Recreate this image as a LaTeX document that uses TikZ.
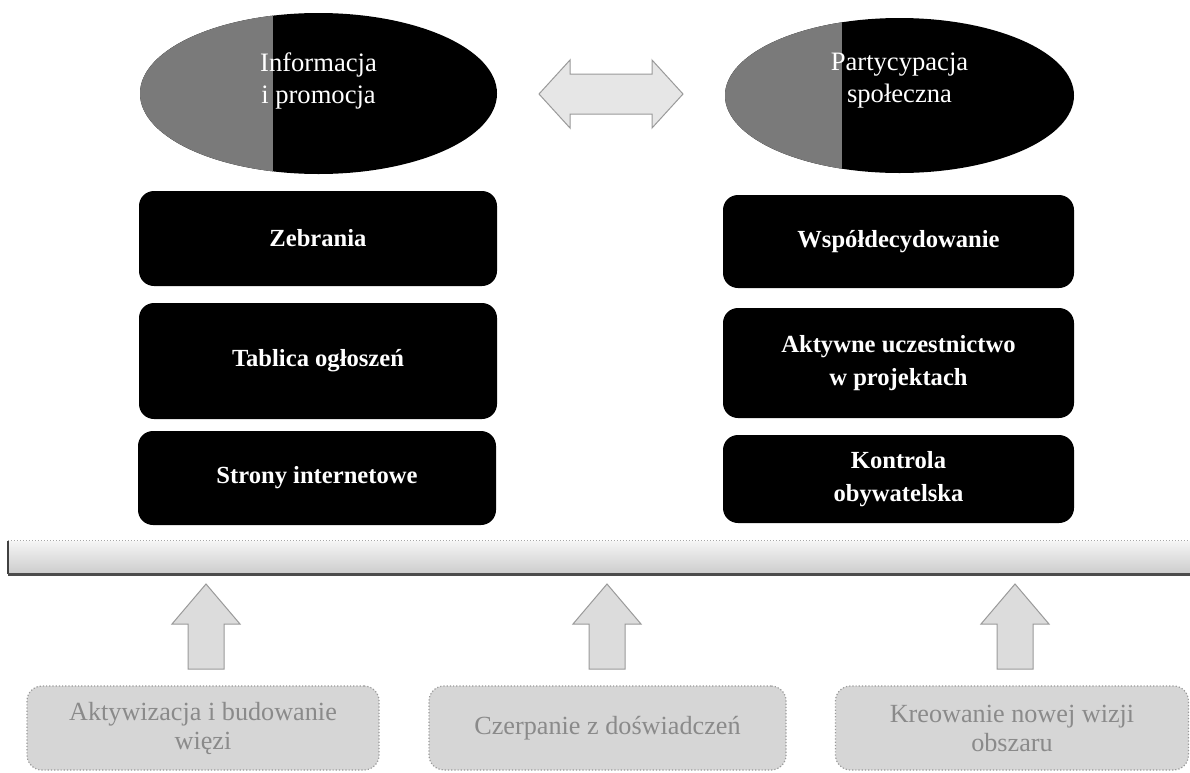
\documentclass[tikz,border=0pt]{standalone}
\usepackage{fontspec}
\setmainfont{Liberation Serif}
\usetikzlibrary{shapes.geometric}
\definecolor{ellgray}{HTML}{7A7A7A}
\definecolor{boxgray}{HTML}{D6D6D6}
\definecolor{edgegray}{HTML}{9A9A9A}
\definecolor{txtgray}{HTML}{8A8A8A}
\definecolor{arrowgray}{HTML}{DCDCDC}
\begin{document}
\begin{tikzpicture}[x=0.5pt,y=-0.5pt,
  ell/.style={ellipse, fill=black, inner sep=0pt},
  elltext/.style={text=white, align=center, inner sep=0pt, font=\fontsize{13.3}{16}\selectfont},
  darkbox/.style={rectangle, rounded corners=7.5pt, fill=black, text=white, align=center, inner sep=0pt, font=\bfseries\fontsize{12.3}{16.5}\selectfont},
  lightbox/.style={rectangle, rounded corners=7.5pt, fill=boxgray, draw=edgegray, densely dotted, line width=0.6pt, text=txtgray, align=center, inner sep=0pt, minimum height=42pt, font=\fontsize{13.1}{14.5}\selectfont},
  blockarrow/.style={fill=arrowgray, draw=edgegray, line width=0.5pt}]
\useasboundingbox (0,0) rectangle (1190,772);
\fill[white] (0,0) rectangle (1190,772);

% ellipses
\node[ell, minimum width=178.5pt, minimum height=80.5pt,
  path picture={\fill[ellgray] (path picture bounding box.south west) rectangle ([xshift=66.5pt]path picture bounding box.north west);}]
  (info) at (318.5,93.5) {};
\node[elltext] (infotext) at (318.5,81) {Informacja\\i promocja};

\node[ell, minimum width=174.5pt, minimum height=77.5pt,
  path picture={\fill[ellgray] (path picture bounding box.south west) rectangle ([xshift=58.5pt]path picture bounding box.north west);}]
  (part) at (899.5,95.5) {};
\node[elltext] (parttext) at (899.5,81) {Partycypacja\\społeczna};

% double arrow
\draw[blockarrow, fill=arrowgray!70!white] (539,94) -- (570,60) -- (570,74) -- (652,74) -- (652,60) -- (683,94)
  -- (652,128) -- (652,114) -- (570,114) -- (570,128) -- cycle;

% left column boxes
\node[darkbox, minimum width=179pt, minimum height=47.5pt] (zeb) at (318,238.5) {Zebrania};
\node[darkbox, minimum width=179pt, minimum height=58pt] (tab) at (318,361) {Tablica ogłoszeń};
\node[darkbox, minimum width=179pt, minimum height=47pt] (str) at (317,478) {Strony internetowe};

% right column boxes
\node[darkbox, minimum width=175.5pt, minimum height=46.5pt] (wsp) at (898.5,241.5) {Współdecydowanie};
\node[darkbox, minimum width=175.5pt, minimum height=55pt] (akt) at (898.5,363) {Aktywne uczestnictwo\\w projektach};
\node[darkbox, minimum width=175.5pt, minimum height=44pt] (kon) at (898.5,479) {Kontrola\\obywatelska};

% bar
\node[rectangle, inner sep=0pt, minimum width=591pt, minimum height=16.5pt,
  top color=gray!8, bottom color=gray!40] (bar) at (599,557.5) {};
\draw[densely dotted, gray!70, line width=0.5pt] (bar.north west) -- (bar.north east);
\draw[black!75, line width=1pt] (bar.north west) -- (bar.south west);
\draw[black!70, line width=1.4pt] (bar.south west) -- (bar.south east);

% bottom boxes
\node[lightbox, minimum width=176pt] (b1) at (203,728) {Aktywizacja i budowanie\\więzi};
\node[lightbox, minimum width=178.5pt] (b2) at (607.5,728) {Czerpanie z doświadczeń};
\node[lightbox, minimum width=176.5pt] (b3) at (1012,728) {Kreowanie nowej wizji\\obszaru};

% up arrows
\foreach \n/\x in {a1/206, a2/607, a3/1015} {
  \coordinate (\n) at (\x,584);
  \draw[blockarrow] (\n) -- ++(34,40) -- ++(-16,0) -- ++(0,45) -- ++(-36,0) -- ++(0,-45) -- ++(-16,0) -- cycle;
}
\end{tikzpicture}
\end{document}
